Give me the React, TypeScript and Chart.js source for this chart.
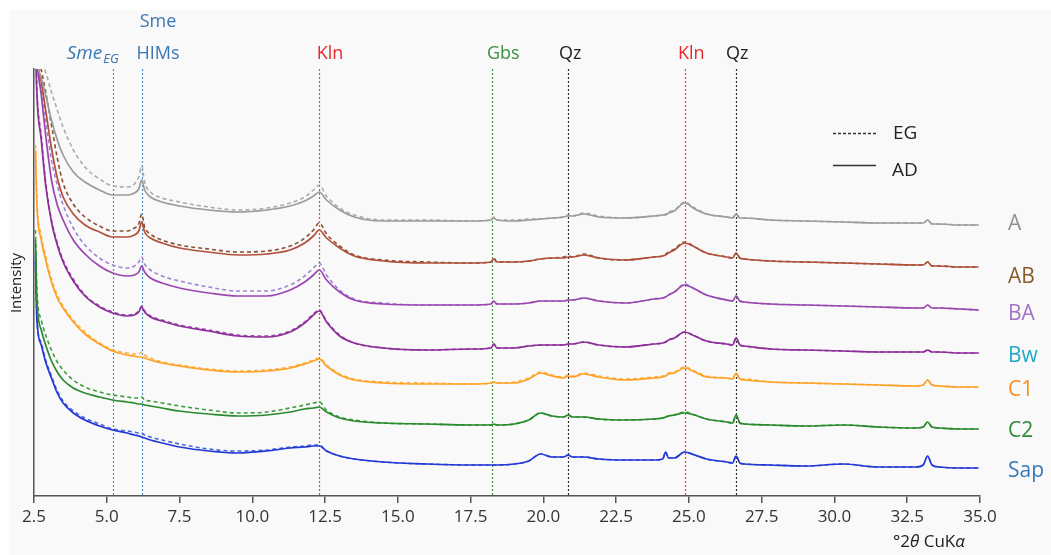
import React, { useEffect, useRef } from 'react';
import { Chart, registerables } from 'chart.js';

Chart.register(...registerables);

// ---------- data ----------
const twoTheta = [
  2.55, 2.6, 2.75, 2.9, 3.1, 3.3, 3.5, 3.85, 4.25, 4.75, 5.2, 5.7, 5.95, 6.1, 6.2, 6.3, 6.5, 6.9, 7.5, 8.5,
  9.5, 10.5, 11.3, 11.8, 12.1, 12.3, 12.55, 13.0, 13.5, 14.5, 16.0, 17.5, 18.2, 18.3, 18.4, 19.0, 19.5, 19.9,
  20.3, 20.7, 20.85, 21.0, 21.4, 21.9, 22.8,
  23.8, 24.1, 24.2, 24.3, 24.5, 24.85, 25.2, 25.6, 26.3, 26.5, 26.62, 26.75, 26.9, 27.8,
  29.0, 30.3, 31.5, 32.8, 33.05, 33.2, 33.35, 33.6, 34.3, 34.95,
];

const A_AD = [480, 445, 422, 405, 380, 360, 345, 328, 318, 310, 305, 305, 307, 311, 320, 310, 303, 298, 294, 290, 288, 290, 294, 299, 304, 308, 300, 290, 283, 279, 279, 279, 280, 282, 280, 279, 280, 281, 282, 283, 284, 284, 286, 283, 282,
  284, 285, 285, 287, 289, 297, 291, 286, 283, 282, 286, 282, 282, 280, 279, 278, 277, 277, 277, 280, 276, 276, 275, 275];
const A_EG = [485, 460, 440, 428, 408, 390, 373, 350, 333, 321, 314, 313, 316, 323, 334, 318, 308, 302, 298, 293, 290, 292, 297, 303, 310, 315, 304, 292, 285, 280, 280, 279, 280, 283, 280, 280, 281, 281, 282, 283, 285, 284, 287, 284, 282,
  284, 285, 286, 288, 290, 298, 292, 286, 283, 282, 286, 282, 282, 280, 279, 278, 277, 277, 277, 280, 276, 276, 275, 275];
const AB_AD = [475, 445, 418, 390, 352, 322, 303, 286, 275, 268, 263, 263, 265, 269, 278, 268, 262, 257, 252, 248, 245, 246, 250, 257, 264, 270, 262, 252, 244, 239, 237, 237, 238, 241, 238, 238, 239, 241, 242, 242, 243, 243, 245, 242, 240,
  243, 244, 245, 247, 250, 257, 253, 247, 243, 242, 247, 242, 241, 239, 238, 237, 236, 235, 235, 238, 234, 234, 233, 233];
const AB_EG = [480, 450, 430, 408, 375, 342, 317, 296, 283, 274, 269, 269, 272, 276, 286, 273, 266, 260, 255, 251, 248, 249, 254, 262, 270, 277, 266, 254, 245, 240, 238, 237, 238, 242, 238, 238, 239, 241, 242, 243, 244, 243, 246, 242, 240,
  243, 244, 246, 248, 251, 258, 253, 247, 243, 242, 247, 242, 241, 239, 238, 237, 236, 235, 235, 238, 234, 234, 233, 233];
const BA_AD = [470, 440, 405, 365, 320, 295, 280, 260, 246, 234, 227, 224, 225, 228, 234, 228, 222, 217, 212, 207, 204, 204, 210, 218, 225, 230, 220, 208, 200, 196, 195, 195, 196, 199, 196, 196, 197, 199, 199, 199, 200, 200, 202, 199, 197,
  201, 202, 203, 205, 208, 215, 211, 205, 200, 199, 204, 199, 198, 196, 195, 194, 193, 192, 192, 195, 192, 192, 191, 190];
const BA_EG = [472, 442, 412, 380, 340, 315, 295, 272, 255, 242, 235, 232, 234, 238, 243, 236, 230, 224, 219, 213, 209, 209, 215, 224, 232, 237, 225, 210, 201, 197, 195, 195, 196, 199, 196, 196, 197, 199, 199, 199, 200, 200, 202, 199, 197,
  201, 202, 203, 205, 208, 216, 211, 205, 200, 199, 204, 199, 198, 196, 195, 194, 193, 192, 192, 195, 192, 192, 191, 190];
const Bw_AD = [460, 405, 360, 315, 278, 255, 238, 219, 204, 193, 187, 184, 185, 188, 193, 188, 183, 179, 174, 169, 164, 163, 168, 177, 185, 189, 178, 164, 157, 152, 150, 151, 152, 156, 152, 152, 154, 155, 155, 155, 156, 156, 158, 155, 153,
  156, 157, 158, 160, 162, 168, 164, 159, 156, 155, 162, 155, 154, 151, 150, 149, 148, 148, 148, 150, 148, 148, 147, 147];
const Bw_EG = [462, 410, 364, 318, 280, 257, 240, 221, 205, 194, 188, 185, 186, 189, 194, 189, 184, 180, 175, 170, 165, 164, 169, 178, 186, 190, 179, 165, 157, 152, 150, 151, 152, 156, 152, 152, 154, 155, 155, 155, 156, 156, 158, 155, 153,
  156, 157, 158, 160, 162, 168, 164, 159, 156, 155, 162, 155, 154, 151, 150, 149, 148, 148, 148, 150, 148, 148, 147, 147];
const C1_AD = [350, 295, 260, 240, 218, 202, 192, 178, 166, 156, 149, 145, 144, 143, 143, 142, 140, 137, 134, 130, 128, 129, 132, 136, 139, 141, 134, 125, 120, 117, 116, 116, 117, 118, 117, 117, 121, 127, 124, 122, 124, 123, 126, 123, 120,
  122, 123, 124, 126, 127, 132, 128, 123, 122, 121, 127, 121, 120, 118, 117, 116, 115, 114, 115, 120, 115, 114, 113, 113];
const C1_EG = [355, 300, 265, 244, 221, 205, 194, 180, 168, 157, 150, 147, 146, 146, 148, 145, 142, 138, 135, 131, 129, 130, 133, 137, 140, 142, 135, 126, 121, 118, 117, 116, 117, 118, 117, 118, 122, 128, 125, 123, 125, 124, 127, 124, 121,
  123, 124, 125, 127, 128, 133, 129, 124, 122, 121, 127, 121, 121, 118, 117, 116, 115, 114, 115, 120, 115, 114, 113, 113];
const C2_AD = [260, 200, 170, 155, 139, 128, 120, 112, 107, 103, 100, 98, 97, 96, 96, 95, 94, 92, 89, 86, 84, 85, 88, 91, 92, 93, 88, 82, 79, 77, 76, 75, 75, 76, 75, 76, 80, 87, 84, 83, 85, 83, 83, 81, 80,
  81, 82, 83, 84, 85, 87, 85, 81, 78, 77, 85, 77, 76, 75, 74, 75, 73, 72, 73, 78, 73, 72, 71, 71];
const C2_EG = [270, 210, 180, 165, 150, 138, 130, 120, 113, 108, 105, 103, 102, 102, 103, 100, 99, 97, 94, 90, 87, 88, 92, 95, 97, 98, 90, 83, 80, 77, 76, 75, 75, 76, 75, 76, 80, 87, 84, 83, 85, 83, 83, 81, 80,
  81, 82, 83, 84, 85, 88, 85, 81, 78, 77, 85, 77, 76, 75, 74, 75, 73, 72, 73, 78, 73, 72, 71, 71];
const Sap_AD = [240, 180, 155, 138, 122, 107, 97, 87, 80, 74, 70, 67, 65, 64, 63, 62, 60, 57, 53, 49, 47, 49, 52, 53, 54, 54, 49, 44, 41, 38, 36, 35, 35, 35, 35, 36, 39, 46, 43, 43, 45, 43, 43, 41, 40,
  40, 41, 48, 42, 42, 48, 45, 41, 38, 37, 44, 37, 36, 35, 34, 36, 33, 33, 35, 44, 35, 33, 32, 32];
const Sap_EG = [245, 182, 157, 140, 124, 109, 99, 89, 82, 76, 71, 69, 68, 67, 67, 65, 63, 60, 56, 51, 49, 50, 53, 54, 55, 55, 49, 44, 41, 38, 36, 35, 35, 35, 35, 36, 39, 46, 43, 43, 45, 43, 43, 41, 40,
  40, 41, 48, 42, 42, 48, 45, 41, 38, 37, 44, 37, 36, 35, 34, 36, 33, 33, 35, 44, 35, 33, 32, 32];

const horizons = ['A', 'AB', 'BA', 'Bw', 'C1', 'C2', 'Sap'];
const adSeries = [A_AD, AB_AD, BA_AD, Bw_AD, C1_AD, C2_AD, Sap_AD];
const egSeries = [A_EG, AB_EG, BA_EG, Bw_EG, C1_EG, C2_EG, Sap_EG];

const xTicks = [2.5, 5.0, 7.5, 10.0, 12.5, 15.0, 17.5, 20.0, 22.5, 25.0, 27.5, 30.0, 32.5, 35.0];

const refLinePos = [5.2, 6.2, 12.3, 18.25, 20.85, 24.85, 26.62];
const phaseLabels = ['SmeEG', 'HIMs', 'Kln', 'Gbs', 'Qz', 'Kln', 'Qz'];

// ---------- styles ----------
const adColors = ['#9b9b9b', '#b2503c', '#9a46ae', '#8c2f98', '#ffa126', '#2a8a2e', '#2438d4'];
const egColors = ['#ababab', '#8a5030', '#a284d4', '#9a4aa8', '#ffb23e', '#3d9e3d', '#4a66e0'];
const horizonLabelColors = ['#8f8f8f', '#8b5a2b', '#a472c8', '#22a8c2', '#ff8c1a', '#2e8b3a', '#3a78b8'];
const horizonLabelValue = [270, 217, 180, 138, 104, 63, 23];
const refLineColors = ['#4f8fd0', '#4f8fd0', '#e84848', '#3d9a3d', '#333333', '#e84848', '#333333'];
const phaseLabelColors = ['#3a78b4', '#3a78b4', '#e8282a', '#3a9040', '#222222', '#e8282a', '#222222'];
const phaseLabelPos = [4.5, 6.76, 12.67, 18.62, 20.92, 25.08, 26.66];

const FONT = '"Open Sans", "DejaVu Sans", sans-serif';

const overlayPlugin = {
  id: 'overlay',
  beforeDraw(chart: any) {
    const { ctx, width, height } = chart;
    ctx.save();
    ctx.fillStyle = '#ffffff';
    ctx.fillRect(0, 0, width, height);
    ctx.fillStyle = '#f9f9f9';
    ctx.fillRect(9, 10, width - 9, height - 10);
    ctx.restore();
  },
  beforeDatasetsDraw(chart: any) {
    const { ctx, chartArea } = chart;
    const x = chart.scales.x;
    ctx.save();
    ctx.lineWidth = 1.2;
    ctx.setLineDash([2, 2]);
    refLinePos.forEach((p, i) => {
      const px = Math.round(x.getPixelForValue(p)) + 0.5;
      ctx.strokeStyle = refLineColors[i];
      ctx.beginPath();
      ctx.moveTo(px, chartArea.top);
      ctx.lineTo(px, chartArea.bottom);
      ctx.stroke();
    });
    ctx.restore();
  },
  afterDraw(chart: any) {
    const { ctx, chartArea } = chart;
    const x = chart.scales.x;
    const y = chart.scales.y;
    ctx.save();
    ctx.textBaseline = 'alphabetic';

    // phase labels on top
    phaseLabels.forEach((lab, i) => {
      const cx = x.getPixelForValue(phaseLabelPos[i]);
      ctx.fillStyle = phaseLabelColors[i];
      if (lab === 'SmeEG') {
        ctx.font = `italic 19px ${FONT}`;
        const w1 = ctx.measureText('Sme').width;
        ctx.font = `italic 13px ${FONT}`;
        const w2 = ctx.measureText('EG').width;
        const start = cx - (w1 + w2) / 2;
        ctx.textAlign = 'left';
        ctx.font = `italic 19px ${FONT}`;
        ctx.fillText('Sme', start, 59);
        ctx.font = `italic 13px ${FONT}`;
        ctx.fillText('EG', start + w1 + 1, 63);
      } else {
        ctx.font = `18px ${FONT}`;
        ctx.textAlign = 'center';
        ctx.fillText(lab, cx, 59);
        if (lab === 'HIMs') {
          ctx.fillText('Sme', cx, 27);
        }
      }
    });

    // horizon labels on right
    ctx.font = `21px ${FONT}`;
    ctx.textAlign = 'left';
    horizons.forEach((h, i) => {
      ctx.fillStyle = horizonLabelColors[i];
      ctx.fillText(h, chartArea.right + 28, y.getPixelForValue(horizonLabelValue[i]));
    });

    // legend
    ctx.strokeStyle = '#333';
    ctx.lineWidth = 1.3;
    ctx.setLineDash([3, 2]);
    ctx.beginPath();
    ctx.moveTo(833, 133.5);
    ctx.lineTo(876, 133.5);
    ctx.stroke();
    ctx.setLineDash([]);
    ctx.beginPath();
    ctx.moveTo(833, 165.5);
    ctx.lineTo(876, 165.5);
    ctx.stroke();
    ctx.fillStyle = '#222';
    ctx.font = `19px ${FONT}`;
    ctx.fillText('EG', 893, 139);
    ctx.fillText('AD', 892, 176);

    // y-axis title
    ctx.save();
    ctx.translate(17, 283);
    ctx.rotate(-Math.PI / 2);
    ctx.textAlign = 'center';
    ctx.textBaseline = 'middle';
    ctx.font = `15px ${FONT}`;
    ctx.fillStyle = '#222';
    ctx.fillText('Intensity', 0, 0);
    ctx.restore();

    // x-axis title: °2θ CuKα
    const parts: [string, boolean][] = [['°2', false], ['θ', true], [' CuK', false], ['α', true]];
    let tx = 893;
    ctx.textAlign = 'left';
    ctx.fillStyle = '#222';
    parts.forEach(([t, it]) => {
      ctx.font = `${it ? 'italic ' : ''}17px ${FONT}`;
      ctx.fillText(t, tx, 547);
      tx += ctx.measureText(t).width;
    });
    ctx.restore();
  },
};

export default function App() {
  const ref = useRef<HTMLCanvasElement>(null);
  useEffect(() => {
    const datasets: any[] = [];
    horizons.forEach((h, i) => {
      datasets.push({
        label: `${h} AD`,
        data: twoTheta.map((t, k) => ({ x: t, y: adSeries[i][k] })),
        borderColor: adColors[i],
        borderWidth: 1.7,
        pointRadius: 0,
        fill: false,
        cubicInterpolationMode: 'monotone',
      });
      datasets.push({
        label: `${h} EG`,
        data: twoTheta.map((t, k) => ({ x: t, y: egSeries[i][k] })),
        borderColor: egColors[i],
        borderWidth: 1.6,
        borderDash: [4, 3],
        pointRadius: 0,
        fill: false,
        cubicInterpolationMode: 'monotone',
      });
    });

    const chart = new Chart(ref.current as HTMLCanvasElement, {
      type: 'line',
      data: { datasets },
      options: {
        animation: false,
        responsive: false,
        maintainAspectRatio: false,
        layout: { padding: { left: 0, top: 69, right: 71, bottom: 0 } },
        plugins: { legend: { display: false }, tooltip: { enabled: false } },
        scales: {
          x: {
            type: 'linear',
            min: 2.5,
            max: 35,
            afterBuildTicks: (s: any) => {
              s.ticks = xTicks.map((v) => ({ value: v }));
            },
            afterFit: (s: any) => {
              s.height = 59;
            },
            ticks: {
              autoSkip: false,
              maxRotation: 0,
              padding: 4,
              color: '#333',
              font: { family: FONT, size: 17 },
              callback: (v: any) => Number(v).toFixed(1),
            },
            grid: {
              display: true,
              drawOnChartArea: false,
              drawTicks: true,
              tickLength: 7,
              color: '#555',
              lineWidth: 1.5,
            },
            border: { display: true, color: '#555', width: 1.5 },
          },
          y: {
            type: 'linear',
            min: 4,
            max: 431,
            afterFit: (s: any) => {
              s.width = 34;
            },
            ticks: { display: false },
            grid: { display: false, drawTicks: false },
            border: { display: true, color: '#555', width: 1.5 },
          },
        },
      },
      plugins: [overlayPlugin],
    } as any);
    return () => chart.destroy();
  }, []);

  return (
    <div style={{ position: 'fixed', left: 0, top: 0, width: 1051, height: 555 }}>
      <canvas ref={ref} width={1051} height={555} style={{ width: 1051, height: 555, display: 'block' }} />
    </div>
  );
}
